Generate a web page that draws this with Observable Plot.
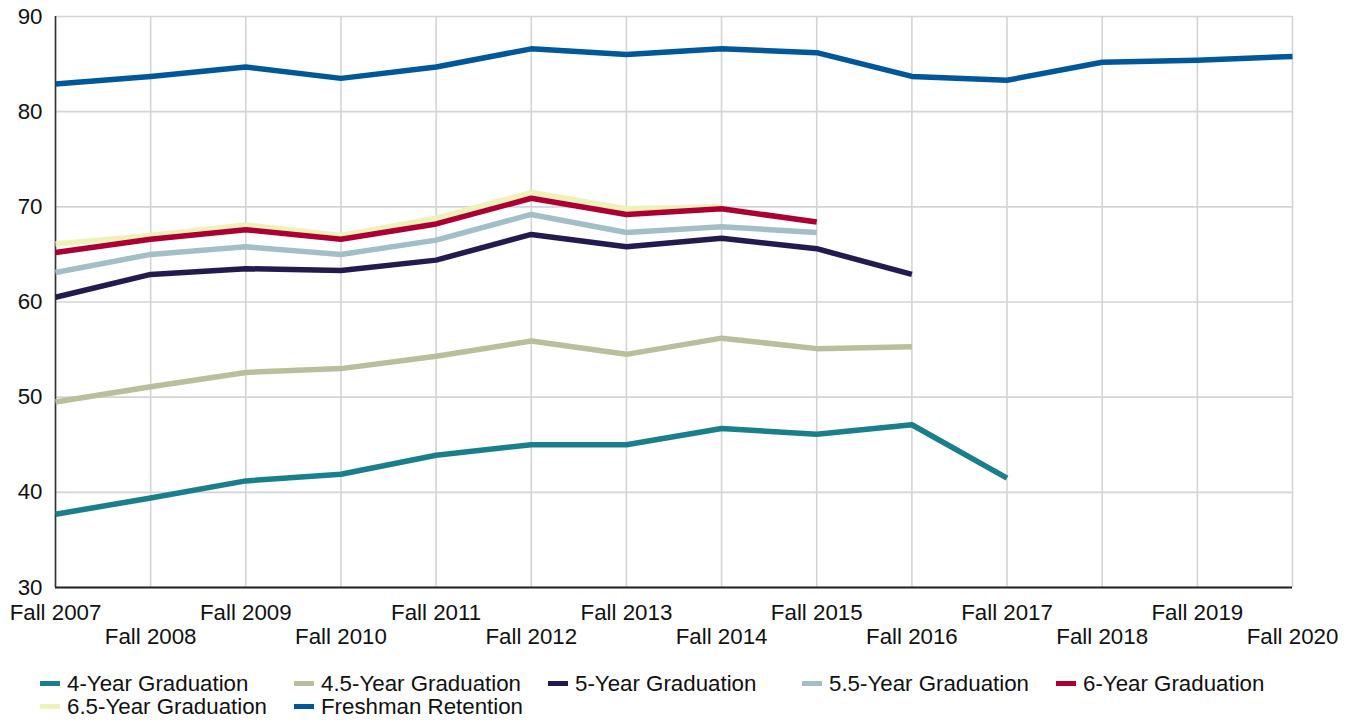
<!DOCTYPE html>
<html>
<head>
<meta charset="utf-8">
<script src="https://cdn.jsdelivr.net/npm/d3@7"></script>
<script src="https://cdn.jsdelivr.net/npm/@observablehq/plot@0.6"></script>
<style>
  html, body { margin: 0; padding: 0; background: #fff; }
  body { font-family: "Liberation Sans", Arial, sans-serif; width: 1346px; }
  #legend { display: grid; grid-template-columns: repeat(5, 254px); margin-left: 40px; margin-top: 17px; row-gap: 0px; font-size: 22.3px; color: #111; }
  .item { display: flex; align-items: center; height: 23px; white-space: nowrap; }
  .sw { width: 20px; height: 5px; margin-right: 7px; flex: none; }
</style>
</head>
<body>
<div id="chart"></div>
<div id="legend"></div>
<script>
const years = [2007, 2008, 2009, 2010, 2011, 2012, 2013, 2014, 2015, 2016, 2017, 2018, 2019, 2020];
const seriesNames = ["4-Year Graduation", "4.5-Year Graduation", "5-Year Graduation", "5.5-Year Graduation", "6-Year Graduation", "6.5-Year Graduation", "Freshman Retention"];
const seriesColors = ["#1a7f8c", "#b8bf9c", "#251a4f", "#a2bec6", "#ac0033", "#eef2b8", "#00589a"];
const grad4   = [37.7, 39.4, 41.2, 41.9, 43.9, 45.0, 45.0, 46.7, 46.1, 47.1, 41.5, null, null, null];
const grad45  = [49.5, 51.1, 52.6, 53.0, 54.3, 55.9, 54.5, 56.2, 55.1, 55.3, null, null, null, null];
const grad5   = [60.5, 62.9, 63.5, 63.3, 64.4, 67.1, 65.8, 66.7, 65.6, 62.9, null, null, null, null];
const grad55  = [63.1, 65.0, 65.8, 65.0, 66.5, 69.2, 67.3, 67.9, 67.3, null, null, null, null, null];
const grad6   = [65.2, 66.6, 67.6, 66.6, 68.2, 70.9, 69.2, 69.8, 68.4, null, null, null, null, null];
const grad65  = [66.1, 67.0, 68.1, 67.0, 68.8, 71.5, 69.8, 70.0, null, null, null, null, null, null];
const retention = [82.9, 83.7, 84.7, 83.5, 84.7, 86.6, 86.0, 86.6, 86.2, 83.7, 83.3, 85.2, 85.4, 85.8];
const yTicks = [30, 40, 50, 60, 70, 80, 90];

const seriesValues = [grad4, grad45, grad5, grad55, grad6, grad65, retention];
const rows = [];
seriesNames.forEach((name, i) => {
  years.forEach((yr, j) => rows.push({series: name, year: yr, value: seriesValues[i][j]}));
});

const evenYears = years.filter((d, i) => i % 2 === 0);
const oddYears = years.filter((d, i) => i % 2 === 1);
const fmt = d => "Fall " + d;

const lineMarks = seriesNames.slice().reverse().map(name =>
  Plot.line(rows.filter(r => r.series === name && r.value != null), {
    x: "year", y: "value", stroke: seriesColors[seriesNames.indexOf(name)],
    strokeWidth: 5.5, strokeLinejoin: "round", strokeLinecap: "butt"
  })
);

const plot = Plot.plot({
  width: 1346,
  height: 655,
  marginTop: 16,
  marginBottom: 68,
  marginLeft: 55,
  marginRight: 54,
  style: { fontFamily: "Liberation Sans, Arial, sans-serif", fontSize: "22px", color: "#111", background: "#fff" },
  x: { type: "linear", domain: [2007, 2020] },
  y: { domain: [30, 90] },
  marks: [
    Plot.gridX(years, { stroke: "#d4d4d4", strokeOpacity: 1, strokeWidth: 1.6 }),
    Plot.gridY(yTicks, { stroke: "#d4d4d4", strokeOpacity: 1, strokeWidth: 1.6 }),
    Plot.axisY(yTicks, { tickSize: 0, tickPadding: 13, label: null, fontSize: 22.3 }),
    Plot.axisX(evenYears, { tickSize: 0, tickPadding: 17, tickFormat: fmt, label: null, fontSize: 22.3 }),
    Plot.axisX(oddYears, { tickSize: 0, tickPadding: 41, tickFormat: fmt, label: null, fontSize: 22.3 }),
    Plot.ruleX([2007], { stroke: "#333", strokeWidth: 1.6 }),
    Plot.ruleY([30], { stroke: "#222", strokeWidth: 2 }),
    ...lineMarks
  ]
});
document.getElementById("chart").appendChild(plot);

const legend = document.getElementById("legend");
seriesNames.forEach((name, i) => {
  const item = document.createElement("div");
  item.className = "item";
  const sw = document.createElement("span");
  sw.className = "sw";
  sw.style.background = seriesColors[i];
  const t = document.createElement("span");
  t.textContent = name;
  item.appendChild(sw);
  item.appendChild(t);
  legend.appendChild(item);
});
</script>
</body>
</html>
